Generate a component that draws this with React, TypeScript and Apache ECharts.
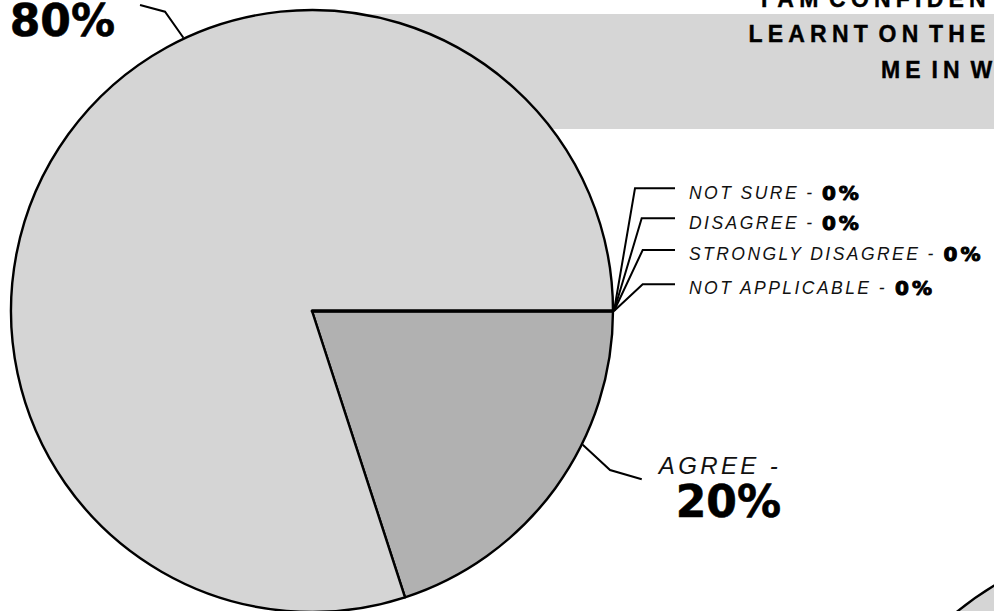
import React, { useEffect, useRef } from 'react';
import * as echarts from 'echarts';

// ---- data ----
const CATEGORIES = ['AGREE', 'STRONGLY AGREE', 'NOT SURE', 'DISAGREE', 'STRONGLY DISAGREE', 'NOT APPLICABLE'];
const PERCENTS = [20, 80, 0, 0, 0, 0];
const TITLE_LINES = ['I AM CONFIDENT', 'LEARNT ON THE', 'ME IN WORK'];
const NEXT_CHART_VALUES = [100];

// ---- styles / layout ----
const SLICE_COLORS = ['#b1b1b1', '#d5d5d5', '#d5d5d5', '#d5d5d5', '#d5d5d5', '#d5d5d5'];
const PIE_CENTER = [312, 311];
const PIE_RADIUS = 301;
const RIM = 302;
const ITALIC_SPACING_EM = 0.14;
const SMALL_NAME_SIZE = 17.5;

// guide-line layout per label: anchor angle on rim (deg, clockwise from 3 o'clock),
// kink and end offsets relative to the anchor, text offset relative to the line end
const GUIDES = [
  { angle: 26.3, kink: [27.3, 25.2], end: [59, 34.5], text: [139.3, 43.7], align: 'right', vAlign: 'bottom' },
  { angle: 244.8, kink: [-18.4, -26], end: [-43.4, -32.7], text: [-25, 37], align: 'right', vAlign: 'bottom' },
  { angle: 0, kink: [21, -122.7], end: [61, -122.7], text: [14, 4.5], align: 'left', vAlign: 'middle' },
  { angle: 0, kink: [27.7, -92.7], end: [61, -92.7], text: [14, 4.5], align: 'left', vAlign: 'middle' },
  { angle: 0, kink: [28.7, -61], end: [61, -61], text: [14, 3.5], align: 'left', vAlign: 'middle' },
  { angle: 0, kink: [28.7, -26.7], end: [61, -26.7], text: [14, 3.5], align: 'left', vAlign: 'middle' },
];

const TITLE_POS = [
  [761, -1.5],
  [748.5, 34.4],
  [881, 69.5],
];

const bigRich = {
  n: {
    fontFamily: 'Liberation Sans',
    fontStyle: 'italic',
    fontSize: 24,
    color: '#111',
    lineHeight: 28,
    align: 'right',
  },
  v: {
    fontFamily: 'DejaVu Sans',
    fontWeight: 'bold',
    fontSize: 44,
    color: '#000',
    lineHeight: 44,
    align: 'right',
    textBorderColor: '#000',
    textBorderWidth: 0.6,
  },
};

const smallRich = (chars: number) => ({
  n: {
    fontFamily: 'Liberation Sans',
    fontStyle: 'italic',
    fontSize: SMALL_NAME_SIZE,
    color: '#111',
    lineHeight: 22,
    padding: [0, chars * ITALIC_SPACING_EM * SMALL_NAME_SIZE, 0, 0],
  },
  v: {
    fontFamily: 'DejaVu Sans',
    fontWeight: 'bold',
    fontSize: 20,
    color: '#000',
    lineHeight: 22,
    textBorderColor: '#000',
    textBorderWidth: 1,
  },
});

function buildOption() {
  const data = CATEGORIES.map((name, i) => {
    const big = PERCENTS[i] > 0;
    const nameText = big ? `${name} -` : `${name} - `;
    return {
      name,
      value: PERCENTS[i],
      itemStyle: { color: SLICE_COLORS[i] },
      label: {
        formatter: big ? `{n|${nameText}}\n{v|${PERCENTS[i]}%}` : `{n|${nameText}}{v|${PERCENTS[i]}%}`,
        rich: big ? bigRich : smallRich(nameText.length),
      },
    };
  });

  const graphics: any[] = [
    {
      type: 'rect',
      z: 0,
      shape: { x: 300, y: 14, width: 720, height: 115 },
      style: { fill: '#d6d6d6' },
    },
  ];
  TITLE_LINES.forEach((t, i) => {
    graphics.push({
      type: 'text',
      z: 1,
      x: TITLE_POS[i][0],
      y: TITLE_POS[i][1],
      style: {
        text: t,
        fontFamily: 'Liberation Sans',
        fontWeight: 'bold',
        fontSize: 23,
        fill: '#000',
        align: 'left',
        verticalAlign: 'middle',
        stroke: '#000',
        lineWidth: 0.4,
      },
    });
  });

  return {
    animation: false,
    backgroundColor: '#ffffff',
    textStyle: { fontFamily: 'Liberation Sans' },
    graphic: graphics,
    series: [
      {
        type: 'pie',
        silent: true,
        center: PIE_CENTER,
        radius: PIE_RADIUS,
        startAngle: 0,
        clockwise: true,
        avoidLabelOverlap: false,
        itemStyle: { borderColor: '#000', borderWidth: 2.4 },
        label: { show: true, position: 'outside' },
        labelLine: { show: true, length: 20, length2: 30, smooth: false, lineStyle: { color: '#000', width: 2 } },
        labelLayout: (params: any) => {
          const g = GUIDES[params.dataIndex];
          const a = (g.angle * Math.PI) / 180;
          const ax = PIE_CENTER[0] + RIM * Math.cos(a);
          const ay = PIE_CENTER[1] + RIM * Math.sin(a);
          const kx = ax + g.kink[0];
          const ky = ay + g.kink[1];
          const ex = ax + g.end[0];
          const ey = ay + g.end[1];
          return {
            x: ex + g.text[0],
            y: ey + g.text[1],
            align: g.align,
            verticalAlign: g.vAlign,
            labelLinePoints: [
              [ax, ay],
              [kx, ky],
              [ex, ey],
            ],
          };
        },
        data,
      },
      {
        type: 'pie',
        silent: true,
        center: [1150, 843],
        radius: PIE_RADIUS,
        itemStyle: { color: '#d5d5d5', borderColor: '#000', borderWidth: 2.4 },
        label: { show: false },
        labelLine: { show: false },
        data: NEXT_CHART_VALUES.map((v) => ({ value: v, name: '' })),
      },
    ],
  };
}

export default function App() {
  const ref = useRef<HTMLDivElement>(null);
  useEffect(() => {
    if (!ref.current) return;
    const chart = echarts.init(ref.current, null, { renderer: 'svg' });
    chart.setOption(buildOption() as any);
    return () => chart.dispose();
  }, []);
  return (
    <>
      <style>{`
        .pie-chart text[style*="italic"] { letter-spacing: ${ITALIC_SPACING_EM}em; }
        .pie-chart text[style*="23px"] { letter-spacing: 5.2px; word-spacing: -6px; }
        .pie-chart text[style*="20px"] { letter-spacing: 3px; }
      `}</style>
      <div
        ref={ref}
        className="pie-chart"
        style={{ position: 'fixed', left: 0, top: 0, width: 994, height: 611, background: '#fff' }}
      />
    </>
  );
}
